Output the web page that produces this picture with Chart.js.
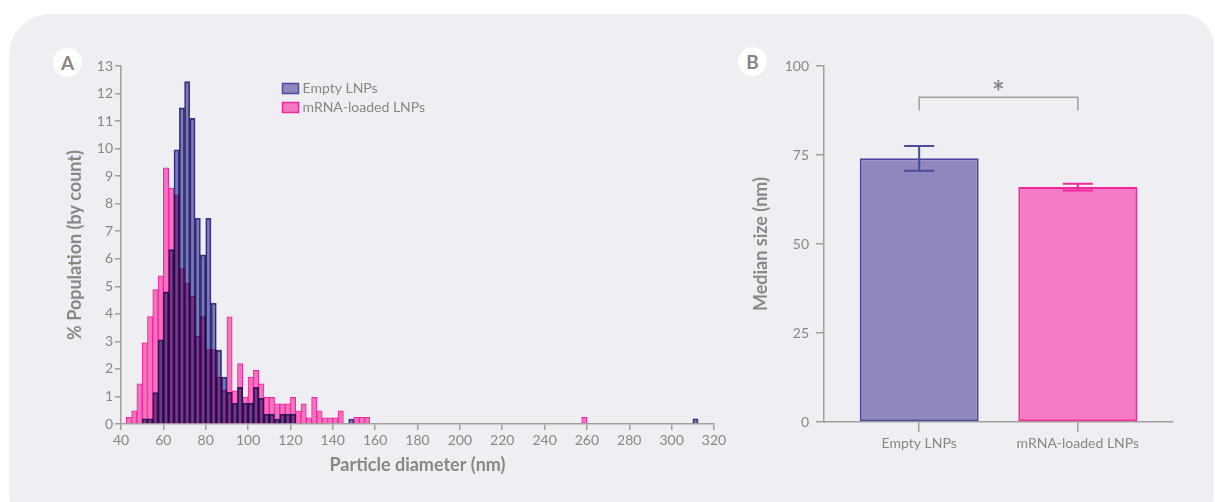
<!DOCTYPE html>
<html>
<head>
<meta charset="utf-8">
<script src="https://cdn.jsdelivr.net/npm/chart.js@4.4.1/dist/chart.umd.min.js"></script>
<style>
  html, body { margin: 0; padding: 0; background: #ffffff; width: 1215px; height: 502px; overflow: hidden; font-family: Lato, "Noto Sans", sans-serif; }
  #panel { position: absolute; left: 9px; top: 14px; width: 1205px; height: 500px; background: #eeeef3; border-radius: 42px 32px 20px 20px; }
  .wrap { position: absolute; top: 0; height: 502px; }
  #wrapA { left: 0; width: 740px; }
  #wrapB { left: 740px; width: 475px; }
  .badge { position: absolute; width: 29px; height: 29px; border-radius: 50%; background: #ffffff; color: #8a8585; font-weight: 700; font-size: 19px; line-height: 29px; text-align: center; }
</style>
</head>
<body>
<div id="panel"></div>
<div class="badge" style="left:53px; top:48px;">A</div>
<div class="badge" style="left:738px; top:47px;">B</div>
<div class="wrap" id="wrapA"><canvas id="histA" width="740" height="502"></canvas></div>
<div class="wrap" id="wrapB"><canvas id="barB" width="475" height="502"></canvas></div>
<script>
// ---- Panel A: size distribution histogram (2.5 nm bins) ----
const binStart = 42.5;   // lower edge of the first bin, nm
const binWidth = 2.5;    // nm
const emptyPct = [0, 0, 0, 0.19, 0.19, 1.14, 3.06, 4.80, 6.33, 9.96,
                  11.48, 12.43, 11.10, 7.47, 6.14, 7.47, 4.39, 2.68, 1.70, 1.15,
                  0.76, 1.33, 0.76, 0.76, 1.33, 0.94, 0.36, 0.36, 0.18, 0.36,
                  0.36, 0.36, 0, 0, 0, 0, 0, 0, 0, 0,
                  0, 0, 0.18, 0, 0, 0];
const loadedPct = [0.24, 0.48, 1.46, 2.95, 3.90, 4.88, 5.38, 9.30, 8.57, 8.32,
                   5.64, 5.12, 4.64, 3.18, 3.90, 2.70, 2.70, 1.70, 1.22, 3.89,
                   1.20, 2.19, 0.98, 1.70, 1.95, 1.46, 0.97, 0.97, 0.73, 0.73,
                   0.73, 0.97, 0.48, 0.73, 0.22, 0.97, 0.48, 0.22, 0.22, 0.22,
                   0.48, 0, 0, 0.24, 0.24, 0.24];
// isolated large particles (bin lower edge, % population)
const emptyOutliers = [{ from: 310, pct: 0.19 }];
const loadedOutliers = [{ from: 257.5, pct: 0.24 }];
const seriesNames = ['Empty LNPs', 'mRNA-loaded LNPs'];
const xTickStep = 20;
const yTickStep = 1;

// ---- Panel B: median size ----
const groups = ['Empty LNPs', 'mRNA-loaded LNPs'];
const medianSize = [74.1, 66.0];
const errLow = [70.6, 65.0];
const errHigh = [77.5, 66.9];
const bracketLow = 87.5;
const bracketHigh = 91.2;
const bracketLabel = '*';

const textGray = '#8b8686';
const axisGray = '#a39f9f';
const purpleFill = '#7f7bb7';
const purpleLine = '#3f3d8e';
const pinkFill = '#f870c0';
const pinkLine = '#f0229a';
const purpleFillB = '#8f88bc';
const purpleLineB = '#4b4a9c';
const pinkFillB = '#f47ac3';
const pinkLineB = '#f0289b';
const FONT = 'Lato, "Noto Sans", sans-serif';

function toPoints(pcts, outliers) {
  return pcts.map((p, i) => ({ x: binStart + binWidth * (i + 0.5), y: p }))
    .concat(outliers.map(o => ({ x: o.from + binWidth / 2, y: o.pct })))
    .filter(d => d.y > 0);
}

// multiply blending for the dataset flagged with `blend`
const blendPlugin = {
  id: 'blendPlugin',
  beforeDatasetDraw(chart, args) {
    const ds = chart.data.datasets[args.index];
    if (ds.blend) { chart.ctx.save(); chart.ctx.globalCompositeOperation = ds.blend; }
  },
  afterDatasetDraw(chart, args) {
    const ds = chart.data.datasets[args.index];
    if (ds.blend) chart.ctx.restore();
  }
};

const legendA = {
  id: 'legendA',
  afterDraw(chart) {
    const ctx = chart.ctx;
    const swatches = [[purpleFillB, purpleLineB], [pinkFillB, pinkLineB]];
    chart.data.datasets.forEach((ds, i) => {
      const x = 282.5, y = 83.5 + 19 * i;
      ctx.save();
      ctx.fillStyle = swatches[i][0];
      ctx.fillRect(x, y, 16, 10);
      ctx.strokeStyle = swatches[i][1];
      ctx.lineWidth = 1.5;
      ctx.strokeRect(x, y, 16, 10);
      ctx.fillStyle = textGray;
      ctx.font = '14px ' + FONT;
      ctx.textBaseline = 'middle';
      ctx.fillText(ds.label, x + 20, y + 5);
      ctx.restore();
    });
  }
};

const tickFont = { family: FONT, size: 14 };
const titleFont = { family: FONT, size: 18, weight: 'bold', lineHeight: 1.2 };

new Chart(document.getElementById('histA'), {
  type: 'bar',
  data: {
    datasets: [
      { label: seriesNames[0], data: toPoints(emptyPct, emptyOutliers), backgroundColor: purpleFill, borderColor: purpleLine,
        borderWidth: 1, grouped: false, barPercentage: 1, categoryPercentage: 1, blend: 'multiply' },
      { label: seriesNames[1], data: toPoints(loadedPct, loadedOutliers), backgroundColor: pinkFill, borderColor: pinkLine,
        borderWidth: 1, grouped: false, barPercentage: 1, categoryPercentage: 1 }
    ]
  },
  options: {
    responsive: false,
    animation: false,
    layout: { padding: { left: 64, top: 66, right: 26, bottom: 26 } },
    plugins: { legend: { display: false }, tooltip: { enabled: false } },
    scales: {
      x: {
        type: 'linear', min: 40, max: 320, offset: false,
        ticks: { stepSize: xTickStep, color: textGray, font: tickFont, padding: 2, maxRotation: 0, autoSkip: false },
        grid: { drawOnChartArea: false, offset: false, tickLength: 6, color: axisGray, lineWidth: 1.5 },
        border: { color: axisGray, width: 1.5 },
        title: { display: true, text: 'Particle diameter (nm)', color: textGray, font: titleFont, padding: 0 },
        afterFit(s) { s.height = 52; }
      },
      y: {
        min: 0, max: 13,
        ticks: { stepSize: yTickStep, color: textGray, font: tickFont, padding: 2 },
        grid: { drawOnChartArea: false, tickLength: 6, color: axisGray, lineWidth: 1.5 },
        border: { color: axisGray, width: 1.5 },
        title: { display: true, text: '% Population (by count)', color: textGray, font: titleFont, padding: 0 },
        afterFit(s) { s.width = 57; }
      }
    }
  },
  plugins: [blendPlugin, legendA]
});

const errorBars = {
  id: 'errorBars',
  afterDatasetsDraw(chart) {
    const { ctx, scales: { x, y } } = chart;
    const lines = [purpleLineB, pinkLineB];
    ctx.save();
    groups.forEach((g, i) => {
      const cx = x.getPixelForValue(i);
      const top = y.getPixelForValue(errHigh[i]);
      const bot = y.getPixelForValue(errLow[i]);
      const half = 15;
      ctx.strokeStyle = lines[i];
      ctx.lineWidth = 2;
      ctx.beginPath();
      ctx.moveTo(cx, top); ctx.lineTo(cx, bot);
      ctx.moveTo(cx - half, top); ctx.lineTo(cx + half, top);
      ctx.moveTo(cx - half, bot); ctx.lineTo(cx + half, bot);
      ctx.stroke();
    });
    const x0 = x.getPixelForValue(0), x1 = x.getPixelForValue(1);
    const yl = y.getPixelForValue(bracketLow), yh = y.getPixelForValue(bracketHigh);
    ctx.strokeStyle = axisGray;
    ctx.lineWidth = 1.5;
    ctx.beginPath();
    ctx.moveTo(x0, yl); ctx.lineTo(x0, yh); ctx.lineTo(x1, yh); ctx.lineTo(x1, yl);
    ctx.stroke();
    ctx.fillStyle = textGray;
    ctx.font = 'bold 30px ' + FONT;
    ctx.textAlign = 'center';
    ctx.textBaseline = 'middle';
    ctx.fillText(bracketLabel, (x0 + x1) / 2, yh - 4);
    ctx.restore();
  }
};

new Chart(document.getElementById('barB'), {
  type: 'bar',
  data: {
    datasets: [{
      label: 'Median size',
      data: medianSize.map((v, i) => ({ x: i, y: v })),
      backgroundColor: [purpleFillB, pinkFillB],
      borderColor: [purpleLineB, pinkLineB],
      borderWidth: 2,
      borderSkipped: false,
      barPercentage: 0.75,
      categoryPercentage: 1
    }]
  },
  options: {
    responsive: false,
    animation: false,
    layout: { padding: { left: 10, top: 66, right: 42, bottom: 40 } },
    plugins: { legend: { display: false }, tooltip: { enabled: false } },
    scales: {
      x: {
        type: 'linear', min: -0.6, max: 1.6, offset: false,
        afterBuildTicks(s) { s.ticks = groups.map((g, i) => ({ value: i })); },
        ticks: { color: textGray, font: tickFont, padding: 3, maxRotation: 0, autoSkip: false,
                 callback: (v) => groups[v] },
        grid: { drawOnChartArea: false, offset: false, tickLength: 10, color: axisGray, lineWidth: 1.5 },
        border: { color: axisGray, width: 1.5 },
        afterFit(s) { s.height = 40; }
      },
      y: {
        min: 0, max: 100,
        ticks: { stepSize: 25, color: textGray, font: tickFont, padding: 7 },
        grid: { drawOnChartArea: false, tickLength: 8, color: axisGray, lineWidth: 1.5 },
        border: { color: axisGray, width: 1.5 },
        title: { display: true, text: 'Median size (nm)', color: textGray, font: titleFont, padding: 0 },
        afterFit(s) { s.width = 74; }
      }
    }
  },
  plugins: [errorBars]
});
</script>
</body>
</html>
